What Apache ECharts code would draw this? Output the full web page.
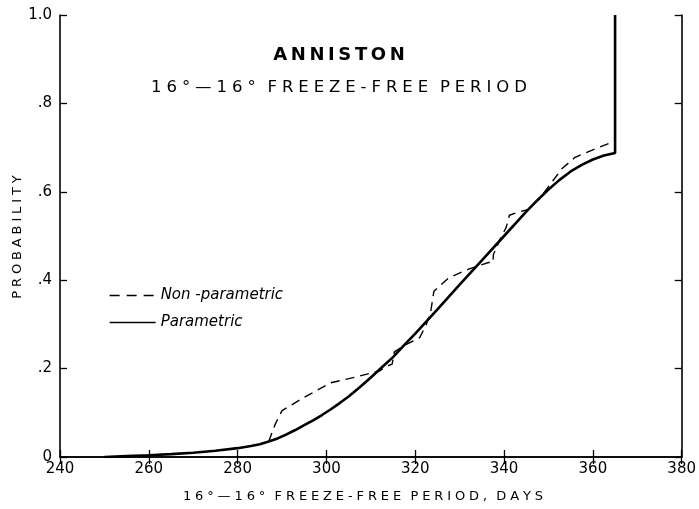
<!DOCTYPE html>
<html>
<head>
<meta charset="utf-8">
<script src="https://cdn.jsdelivr.net/npm/echarts@6/dist/echarts.min.js"></script>
<style>html,body{margin:0;padding:0;background:#fff}#c{width:699px;height:509px}</style>
</head>
<body>
<div id="c"></div>
<script>
// ---- data ----
const titleText = 'ANNISTON';
const subtitleText = '16°—16° FREEZE-FREE PERIOD';
const xAxisTitle = '16°—16° FREEZE-FREE PERIOD, DAYS';
const yAxisTitle = 'PROBABILITY';
const seriesNames = ['Non -parametric', 'Parametric'];
const yTickLabels = {0: '0', 0.2: '.2', 0.4: '.4', 0.6: '.6', 0.8: '.8', 1: '1.0'};

const paramDays = [250, 255, 260, 265, 270, 275, 280, 283, 285, 287, 289, 291, 293, 295, 297, 299, 301, 303, 305, 307.5, 310, 312.5, 315, 317.5, 320, 325, 330, 335, 340, 345, 347.5, 350, 352.5, 355, 357.5, 360, 362.5, 365, 365];
const paramProb = [0, 0.002, 0.004, 0.0065, 0.0095, 0.014, 0.020, 0.025, 0.029, 0.035, 0.042, 0.051, 0.061, 0.072, 0.083, 0.095, 0.108, 0.122, 0.137, 0.158, 0.180, 0.203, 0.226, 0.253, 0.279, 0.334, 0.390, 0.445, 0.500, 0.555, 0.581, 0.605, 0.627, 0.646, 0.661, 0.673, 0.682, 0.688, 1.0];

const nonParamDays = [287, 288.5, 290, 295, 301, 307, 312, 313.5, 314.8, 315.3, 318, 321, 322.5, 323.5, 324.2, 327.5, 332, 336.5, 337.5, 337.6, 339, 340.5, 341.2, 343.5, 345.5, 348, 351, 353, 356, 360.5, 365];
const nonParamProb = [0.035, 0.075, 0.105, 0.135, 0.168, 0.182, 0.195, 0.205, 0.21, 0.238, 0.255, 0.27, 0.30, 0.33, 0.375, 0.405, 0.425, 0.44, 0.44, 0.458, 0.49, 0.52, 0.547, 0.555, 0.56, 0.585, 0.625, 0.652, 0.678, 0.697, 0.715];

// spaced lettering: n hair spaces between letters, n-1 on each side of a word space
function track(s, n) {
  const hs = '\u200A'.repeat(n);
  const hw = '\u200A'.repeat(Math.max(n - 1, 0));
  let out = '';
  for (let i = 0; i < s.length; i++) {
    out += s[i];
    if (i < s.length - 1) out += (s[i] === ' ' || s[i + 1] === ' ') ? hw : hs;
  }
  return out;
}
const FONT = 'DejaVu Sans';

const chart = echarts.init(document.getElementById('c'), null, {renderer: 'canvas'});
const axisCommon = {
  type: 'value', min: 240, max: 380, interval: 20,
  axisLine: {show: true, lineStyle: {color: '#000', width: 1.6}},
  axisTick: {show: true, inside: true, length: 7, lineStyle: {color: '#000', width: 1.3}},
  splitLine: {show: false}
};
const yCommon = {
  type: 'value', min: 0, max: 1, interval: 0.2,
  axisLine: {show: true, lineStyle: {color: '#000', width: 1.6}},
  axisTick: {show: true, inside: true, length: 7, lineStyle: {color: '#000', width: 1.3}},
  splitLine: {show: false}
};
chart.setOption({
  animation: false,
  backgroundColor: '#fff',
  grid: {left: 60, right: 16, top: 15, bottom: 52, containLabel: false},
  title: {
    text: track(titleText, 2),
    subtext: track(subtitleText, 3),
    left: 334, top: 41, textAlign: 'center', itemGap: 15,
    textStyle: {fontFamily: FONT, fontSize: 18, fontWeight: 'bold', color: '#000'},
    subtextStyle: {fontFamily: FONT, fontSize: 16.5, color: '#000'}
  },
  legend: {
    orient: 'vertical', left: 104, top: 283, itemWidth: 46, itemHeight: 10, itemGap: 12,
    textStyle: {fontFamily: FONT, fontSize: 15, fontStyle: 'italic', color: '#000'},
    data: [
      {name: seriesNames[0], lineStyle: {width: 1.3, type: [10, 7]}, itemStyle: {opacity: 0}},
      {name: seriesNames[1], lineStyle: {width: 1.3}, itemStyle: {opacity: 0}}
    ]
  },
  xAxis: [
    Object.assign({}, axisCommon, {position: 'bottom',
      axisLabel: {show: true, margin: 5, color: '#000', fontFamily: FONT, fontSize: 15}}),
    Object.assign({}, axisCommon, {position: 'top', axisLabel: {show: false}})
  ],
  yAxis: [
    Object.assign({}, yCommon, {position: 'left',
      axisLabel: {show: true, margin: 8, color: '#000', fontFamily: FONT, fontSize: 15,
        formatter: v => yTickLabels[Math.round(v * 10) / 10]}}),
    Object.assign({}, yCommon, {position: 'right', axisLabel: {show: false}})
  ],
  graphic: [
    {type: 'text', x: 363, y: 497, style: {text: track(xAxisTitle, 3), fontFamily: FONT, fontSize: 13, fill: '#000', textAlign: 'center', textVerticalAlign: 'middle'}},
    {type: 'text', x: 18, y: 237, rotation: Math.PI / 2, style: {text: track(yAxisTitle, 3), fontFamily: FONT, fontSize: 13, fill: '#000', textAlign: 'center', textVerticalAlign: 'middle'}}
  ],
  series: [
    {
      name: seriesNames[0], type: 'line', symbol: 'none', xAxisIndex: 0, yAxisIndex: 0,
      data: nonParamDays.map((d, i) => [d, nonParamProb[i]]),
      lineStyle: {color: '#000', width: 1.4, type: [9, 6]}, itemStyle: {color: '#000'}, z: 2
    },
    {
      name: seriesNames[1], type: 'line', symbol: 'none', xAxisIndex: 0, yAxisIndex: 0,
      data: paramDays.map((d, i) => [d, paramProb[i]]),
      lineStyle: {color: '#000', width: 2.6}, itemStyle: {color: '#000'}, z: 3
    }
  ]
});
</script>
</body>
</html>
